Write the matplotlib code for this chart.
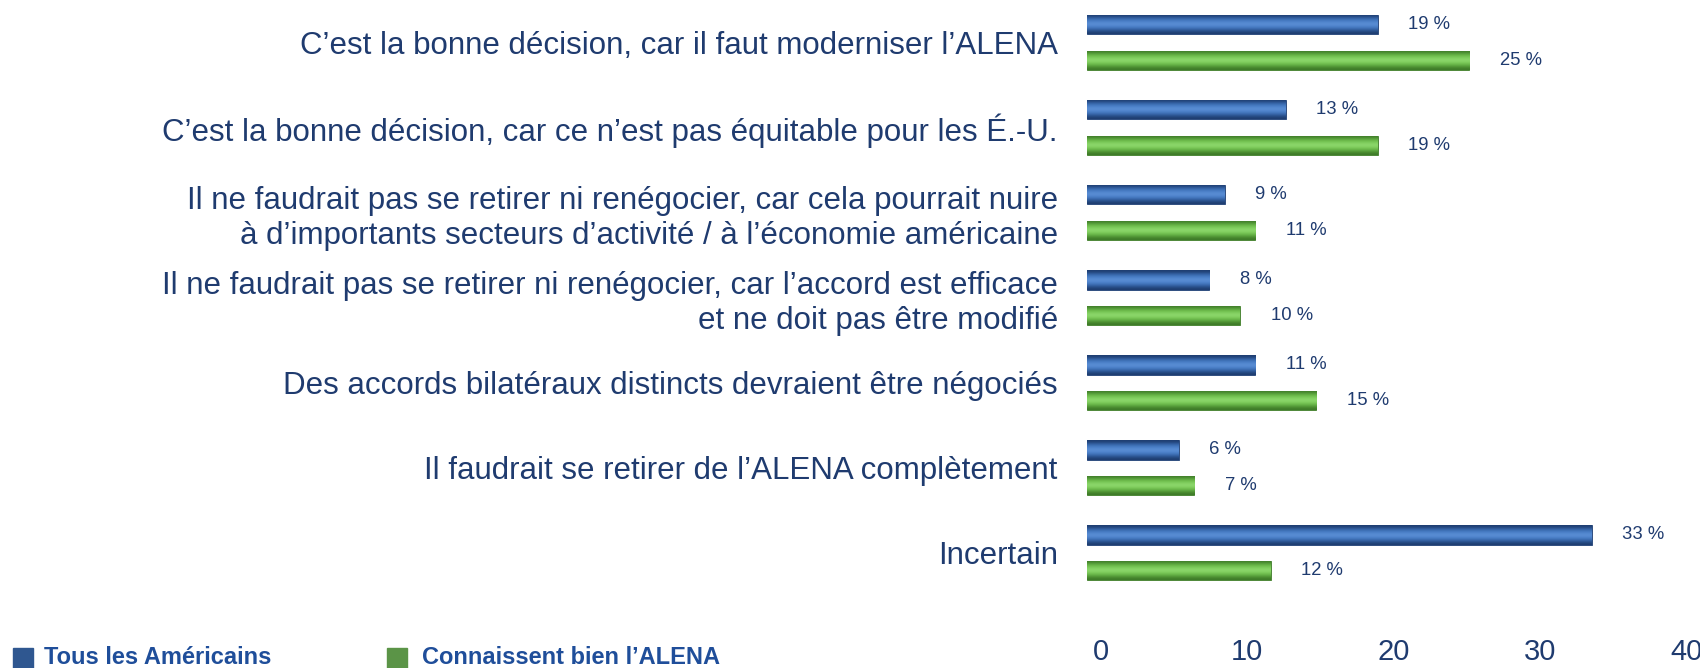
import numpy as np
import matplotlib.pyplot as plt
from matplotlib.patches import Rectangle
from matplotlib.colors import LinearSegmentedColormap

# Données
categories = [
    "C\u2019est la bonne décision, car il faut moderniser l\u2019ALENA",
    "C\u2019est la bonne décision, car ce n\u2019est pas équitable pour les É.-U.",
    "Il ne faudrait pas se retirer ni renégocier, car cela pourrait nuire\n"
    "à d\u2019importants secteurs d\u2019activité / à l\u2019économie américaine",
    "Il ne faudrait pas se retirer ni renégocier, car l\u2019accord est efficace\n"
    "et ne doit pas être modifié",
    "Des accords bilatéraux distincts devraient être négociés",
    "Il faudrait se retirer de l\u2019ALENA complètement",
    "Incertain",
]
tous = [19, 13, 9, 8, 11, 6, 33]
connaissent = [25, 19, 11, 10, 15, 7, 12]
series_names = ["Tous les Américains", "Connaissent bien l\u2019ALENA"]
xticks = [0, 10, 20, 30, 40]

plt.rcParams['font.family'] = ['Liberation Sans', 'DejaVu Sans']
txt_col = '#1F3B6F'

fig = plt.figure(figsize=(17, 6.68), dpi=100)
ax = fig.add_axes([0.6394, 0.109, 0.36, 0.891])

y = np.arange(len(categories))
off = 0.21
h = 0.23

def cyl_bars(ypos, vals, dark, mid, light):
    bars = ax.barh(ypos, vals, height=h, color=mid, edgecolor=dark, linewidth=0.6)
    grad = np.array([0.0, 0.35, 0.6, 0.8, 0.6, 0.3, 0.0])[:, None]
    cmap = LinearSegmentedColormap.from_list('c', [dark, mid, light])
    for b in bars:
        x0, y0, w, hh = b.get_x(), b.get_y(), b.get_width(), b.get_height()
        im = ax.imshow(grad, cmap=cmap, vmin=0, vmax=1, aspect='auto',
                       extent=(x0, x0 + w, y0 + hh, y0), interpolation='bicubic',
                       zorder=2)
        im.set_clip_path(b)
    return bars

cyl_bars(y - off, tous, '#1E3D70', '#4077C2', '#72A2E4')
cyl_bars(y + off, connaissent, '#3E7A28', '#6FC24C', '#A8EA88')

for yi, v in zip(y - off, tous):
    ax.text(v + 2.0, yi, f"{v} %", va='center', ha='left', fontsize=13.3, color=txt_col)
for yi, v in zip(y + off, connaissent):
    ax.text(v + 2.0, yi, f"{v} %", va='center', ha='left', fontsize=13.3, color=txt_col)

ax.set_xlim(0, 40)
ax.set_ylim(6.5, -0.5)
ax.set_yticks(y)
ax.set_yticklabels(categories, fontsize=22.5, color=txt_col, linespacing=1.22)
ax.tick_params(axis='y', length=0, pad=21)
ax.tick_params(axis='x', length=0, labelbottom=False)
for s in ax.spines.values():
    s.set_visible(False)

# graduations légèrement décalées comme dans l'original
sec = ax.secondary_xaxis('bottom', functions=(lambda x: (x - 0.92) / 0.956,
                                              lambda v: 0.92 + 0.956 * v))
sec.set_xticks(xticks)
sec.tick_params(length=0, pad=31, labelsize=21, labelcolor=txt_col)
sec.spines['bottom'].set_visible(False)

# légende
leg_col = '#1F4E9A'
fig.patches.append(Rectangle((13 / 1700, 0), 20 / 1700, 20 / 668,
                             transform=fig.transFigure, color='#2F5790'))
fig.patches.append(Rectangle((387 / 1700, 0), 20 / 1700, 20 / 668,
                             transform=fig.transFigure, color='#5B9447'))
fig.text(44 / 1700, 11 / 668, series_names[0], fontsize=17, fontweight='bold',
         color=leg_col, va='center', ha='left')
fig.text(422 / 1700, 11 / 668, series_names[1], fontsize=17, fontweight='bold',
         color=leg_col, va='center', ha='left')

fig.savefig('out.png', dpi=100, facecolor='white')
